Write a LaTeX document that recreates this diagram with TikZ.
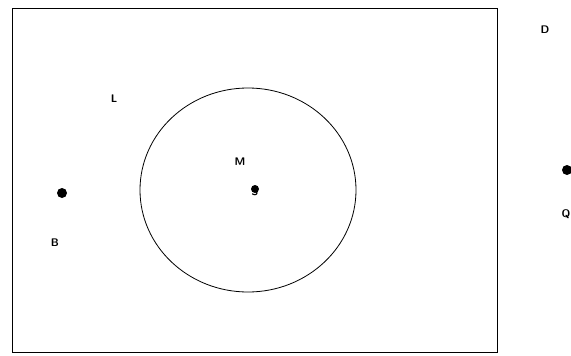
\documentclass[tikz,border=0pt]{standalone}
\usepackage{tikz}
\usetikzlibrary{positioning}

\tikzset{
  ptdot/.style={circle, fill=black, inner sep=0pt, minimum size=10pt},
  ptlabel/.style={font=\sffamily\bfseries\fontsize{11}{11}\selectfont, inner sep=0pt}
}

\begin{document}
\begin{tikzpicture}[x=1pt, y=-1pt]
    \useasboundingbox (0,0) rectangle (571,356);

    % Outer frame
    \draw[line width=0.8pt] (12,8) rectangle (497,352);

    % Circle round the centre point
    \draw[line width=0.8pt] (248,190) ellipse (108 and 102);

    % Points
    \node[ptdot] (dotB) at (62,193) {};
    \node[ptdot, minimum size=8pt] (dotS) at (255,189) {};
    \node[ptdot] (dotQ) at (567,170) {};

    % Labels
    \node[ptlabel] (labL) at (114,99) {L};
    \node[ptlabel] (labM) at (240,162) {M};
    \node[ptlabel] (labS) at (255,192) {S};
    \node[ptlabel] (labB) at (55,243) {B};
    \node[ptlabel] (labD) at (545,30) {D};
    \node[ptlabel] (labQ) at (566,214) {Q};
\end{tikzpicture}
\end{document}
